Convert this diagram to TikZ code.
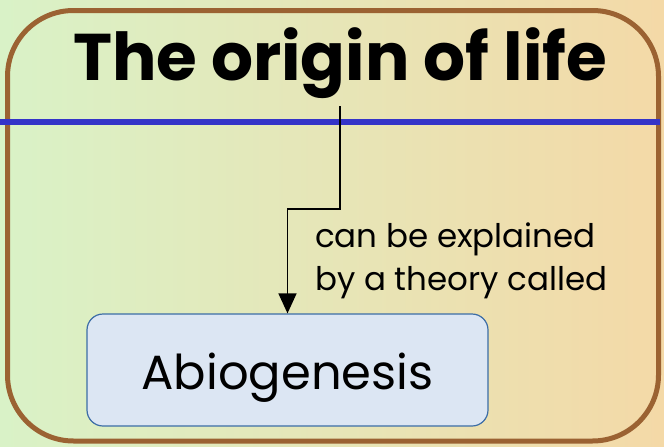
\documentclass[tikz,border=0pt]{standalone}
\usepackage{fontspec}
\setmainfont{Poppins}
\usetikzlibrary{arrows.meta}
\definecolor{bgleft}{HTML}{D9F2C7}
\definecolor{bgright}{HTML}{F4D9A7}
\definecolor{frame}{HTML}{9B6232}
\definecolor{rule}{HTML}{3434C8}
\definecolor{boxfill}{HTML}{DCE6F3}
\definecolor{boxline}{HTML}{3C6DA6}
\tikzset{
  titletext/.style={font=\fontsize{66}{72}\selectfont\bfseries, inner sep=0pt},
  termbox/.style={draw=boxline, line width=1.2pt, fill=boxfill, rounded corners=16pt,
    minimum width=401pt, minimum height=112pt, inner sep=0pt},
  termtext/.style={font=\fontsize{48}{54}\selectfont},
  labeltext/.style={font=\fontsize{32.5}{38}\selectfont, inner sep=0pt},
  connector/.style={line width=1.4pt, -{Triangle[width=18pt,length=20pt]}}
}
\begin{document}
\begin{tikzpicture}[x=1pt,y=-1pt]
\useasboundingbox (0,0) rectangle (664,447);
\shade[left color=bgleft, right color=bgright] (0,0) rectangle (664,447);
\draw[frame, line width=5pt, rounded corners=66pt] (7.5,10.5) rectangle (658.5,441);
\coordinate (ruleL) at (0,122);
\coordinate (ruleR) at (660,122);
\draw[rule, line width=6pt] (ruleL) -- (ruleR);
\node[titletext, anchor=base] (title) at (340,80) {The origin of life};
\node[termbox] (abio) at (287.5,370) {};
\node[termtext, anchor=base] (abiotext) at (287.5,389) {Abiogenesis};
\node[labeltext, anchor=base west] (lbl1) at (315,247) {can be explained};
\node[labeltext, anchor=base west] (lbl2) at (315,290) {by a theory called};
\coordinate (start) at (340,106);
\coordinate (bend) at (340,209);
\draw[connector] (start) -- (bend) -| (abio.north);
\end{tikzpicture}
\end{document}
